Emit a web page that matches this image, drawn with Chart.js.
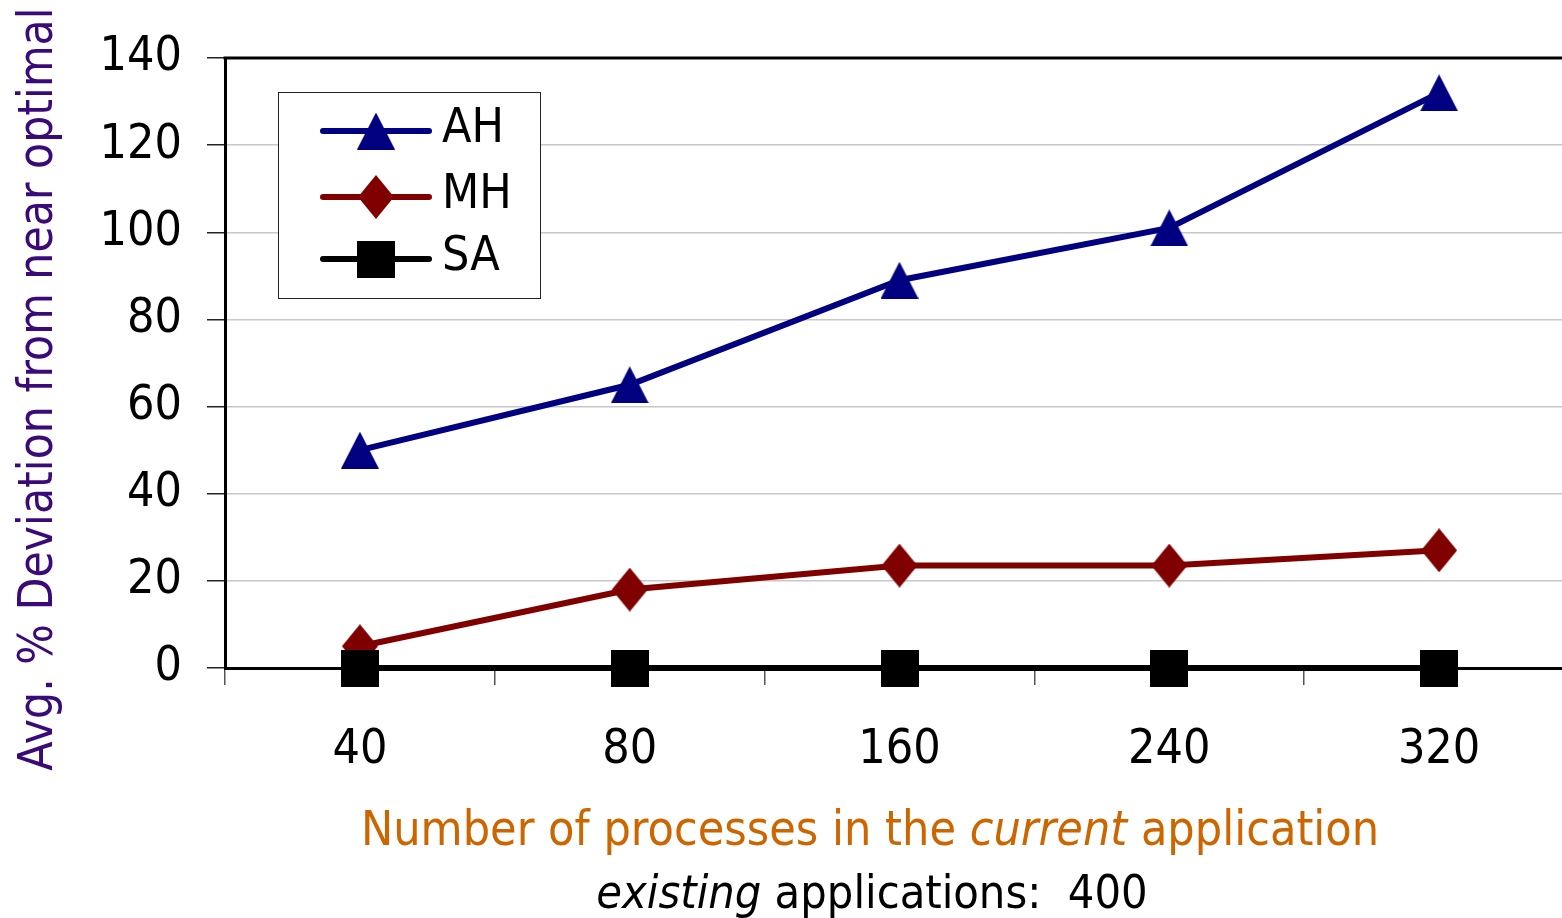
<!DOCTYPE html>
<html><head><meta charset="utf-8">
<script src="https://cdn.jsdelivr.net/npm/chart.js@4.4.0/dist/chart.umd.min.js"></script>
<style>html,body{margin:0;padding:0;background:#fff;overflow:hidden;width:1562px;height:918px}#wrap{width:1600px;height:918px;position:relative}canvas{display:block}</style>
</head><body>
<div id="wrap"><canvas id="c" width="1600" height="918" style="width:1600px;height:918px"></canvas></div>
<script>
const categories = ['40', '80', '160', '240', '320'];
const ahValues = [50, 65, 89, 101, 132];
const mhValues = [5, 18, 23.5, 23.5, 27];
const saValues = [0, 0, 0, 0, 0];
const seriesNames = ['AH', 'MH', 'SA'];
const yMin = 0, yMax = 140, yStep = 20;
const yTitle = 'Avg. % Deviation from near optimal';
const xTitleParts = [['Number of processes in the ', false], ['current', true], [' application', false]];
const subtitleParts = [['existing', true], [' applications:  400', false]];

const FAMILY = '"DejaVu Sans Condensed", "Liberation Sans Narrow", "DejaVu Sans", sans-serif';
const TICK_SIZE = 48;

function makeMarker(type, w, h, color) {
  const c = document.createElement('canvas');
  c.width = w; c.height = h;
  const g = c.getContext('2d');
  g.fillStyle = color;
  g.beginPath();
  if (type === 'triangle') { g.moveTo(w / 2, 0); g.lineTo(w, h); g.lineTo(0, h); }
  else if (type === 'diamond') { g.moveTo(w / 2, 0); g.lineTo(w, h / 2); g.lineTo(w / 2, h); g.lineTo(0, h / 2); }
  else { g.rect(0, 0, w, h); }
  g.closePath();
  g.fill();
  return c;
}
const triMarker = makeMarker('triangle', 38, 37, '#000080');
const diaMarker = makeMarker('diamond', 36, 44, '#800000');
const sqMarker = makeMarker('square', 38, 37, '#000000');

const decorPlugin = {
  id: 'decor',
  beforeDatasetsDraw(chart) {
    const { ctx, chartArea: a } = chart;
    ctx.save();
    ctx.strokeStyle = '#000';
    ctx.lineWidth = 3;
    ctx.beginPath();
    ctx.moveTo(a.left - 1.5, a.top);
    ctx.lineTo(a.right, a.top);
    ctx.lineTo(a.right, a.bottom);
    ctx.stroke();
    ctx.restore();
  },
  afterDraw(chart) {
    const { ctx } = chart;
    ctx.save();
    // Legend box
    const lx = 278, ly = 92, lw = 262, lh = 206;
    ctx.fillStyle = '#fff';
    ctx.fillRect(lx, ly, lw, lh);
    ctx.strokeStyle = '#222';
    ctx.lineWidth = 1;
    ctx.strokeRect(lx + 0.5, ly + 0.5, lw, lh);
    const rows = [131, 197, 259];
    const markers = [triMarker, diaMarker, sqMarker];
    chart.data.datasets.forEach((ds, i) => {
      const y = rows[i];
      ctx.strokeStyle = ds.borderColor;
      ctx.lineWidth = 6;
      ctx.lineCap = 'round';
      ctx.beginPath();
      ctx.moveTo(323, y); ctx.lineTo(429, y);
      ctx.stroke();
      const m = markers[i];
      ctx.drawImage(m, 376 - m.width / 2, y - m.height / 2);
      ctx.fillStyle = '#000';
      ctx.font = `${TICK_SIZE}px ${FAMILY}`;
      ctx.textAlign = 'left';
      ctx.textBaseline = 'middle';
      ctx.fillText(ds.label, 442, y - 1);
    });
    // Y title
    ctx.save();
    ctx.translate(52, 389);
    ctx.rotate(-Math.PI / 2);
    ctx.fillStyle = '#3a0a78';
    ctx.font = `47.5px ${FAMILY}`;
    ctx.textAlign = 'center';
    ctx.textBaseline = 'alphabetic';
    ctx.fillText(yTitle, 0, 0);
    ctx.restore();
    // X title lines
    function drawParts(parts, cx, baseY, color, size) {
      ctx.fillStyle = color;
      ctx.textBaseline = 'alphabetic';
      ctx.textAlign = 'left';
      let total = 0;
      const widths = parts.map(([t, it]) => {
        ctx.font = `${it ? 'italic ' : ''}${size}px ${FAMILY}`;
        const w = ctx.measureText(t).width; total += w; return w;
      });
      let x = cx - total / 2;
      parts.forEach(([t, it], i) => {
        ctx.font = `${it ? 'italic ' : ''}${size}px ${FAMILY}`;
        ctx.fillText(t, x, baseY);
        x += widths[i];
      });
    }
    drawParts(xTitleParts, 870, 845, '#cc6600', 48);
    drawParts(subtitleParts, 872, 908, '#000', 46.5);
    ctx.restore();
  }
};

new Chart(document.getElementById('c'), {
  type: 'line',
  data: {
    labels: categories,
    datasets: [
      { label: seriesNames[0], data: ahValues, borderColor: '#000080', backgroundColor: '#000080', borderWidth: 6, pointStyle: triMarker, pointRadius: 20, order: 2, clip: false, fill: false, tension: 0 },
      { label: seriesNames[1], data: mhValues, borderColor: '#800000', backgroundColor: '#800000', borderWidth: 6, pointStyle: diaMarker, pointRadius: 20, order: 1, clip: false, fill: false, tension: 0 },
      { label: seriesNames[2], data: saValues, borderColor: '#000000', backgroundColor: '#000000', borderWidth: 6, pointStyle: sqMarker, pointRadius: 20, order: 0, clip: false, fill: false, tension: 0 }
    ]
  },
  options: {
    responsive: false,
    maintainAspectRatio: false,
    animation: false,
    devicePixelRatio: 1,
    layout: { padding: { top: 58, right: 5, left: 0, bottom: 0 } },
    plugins: { legend: { display: false }, tooltip: { enabled: false } },
    scales: {
      x: {
        type: 'category',
        offset: true,
        grid: { offset: true, drawOnChartArea: false, drawTicks: true, tickLength: 17, tickColor: '#555', lineWidth: 1.5 },
        border: { display: true, color: '#000', width: 3 },
        ticks: { color: '#000', font: { family: FAMILY, size: TICK_SIZE }, padding: 37, maxRotation: 0, autoSkip: false },
        afterFit(s) { s.height = 250; }
      },
      y: {
        min: yMin, max: yMax,
        grid: {
          color: (c) => (c.tick && c.tick.value === 0 ? 'rgba(0,0,0,0)' : '#c8c8c8'),
          lineWidth: 1.5, tickLength: 18, tickColor: '#222'
        },
        border: { display: true, color: '#000', width: 3 },
        ticks: { stepSize: yStep, color: '#000', font: { family: FAMILY, size: TICK_SIZE }, padding: 25 },
        afterFit(s) { s.width = 225; }
      }
    }
  },
  plugins: [decorPlugin]
});
</script>
</body></html>
